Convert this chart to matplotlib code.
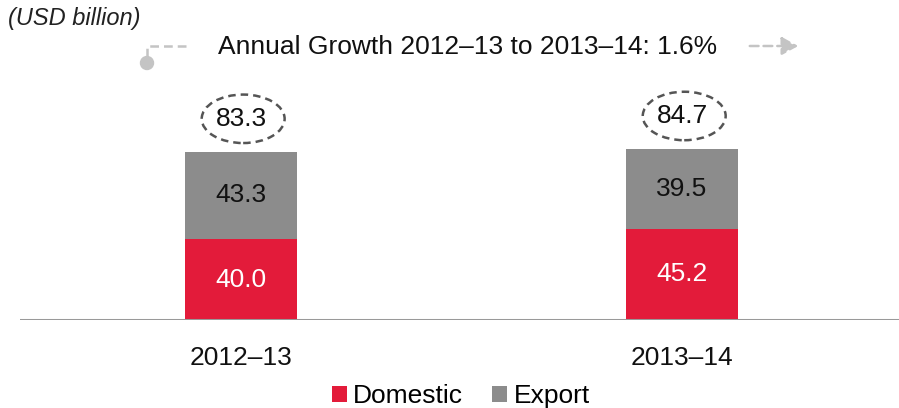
import matplotlib
matplotlib.use("Agg")
import matplotlib.pyplot as plt
from matplotlib.patches import Ellipse, FancyArrowPatch
from matplotlib.lines import Line2D

plt.rcParams['font.family'] = ['Liberation Sans', 'DejaVu Sans']

# Data (USD billion)
years = ["2012\u201313", "2013\u201314"]
domestic = [40.0, 45.2]
export = [43.3, 39.5]
growth_label = "Annual Growth 2012\u201313 to 2013\u201314: 1.6%"

RED = "#E31B3A"
GREY = "#8C8C8C"
FS = 19

W, H = 899, 408
fig = plt.figure(figsize=(W / 100, H / 100), dpi=100)

# axes spans the area above the baseline (baseline at y=320 px)
px_per_unit = 2.02
ax = fig.add_axes([20 / W, (H - 320) / H, 879 / W, 320 / H])
ax.set_ylim(0, 320 / px_per_unit)
ax.set_xlim(-0.501, 1.492)
ax.axis("off")

x = list(range(len(years)))
width = 0.254
ax.bar(x, domestic, width, color=RED, label="Domestic", zorder=2)
ax.bar(x, export, width, bottom=domestic, color=GREY, label="Export", zorder=2)
ax.axhline(0, color="#999999", lw=2.2, zorder=3)

totals = [d + e for d, e in zip(domestic, export)]
for xi, d, e, t, yl in zip(x, domestic, export, totals, years):
    ax.text(xi, d / 2, f"{d:.1f}", color="white", fontsize=FS,
            ha="center", va="center", zorder=4)
    ax.text(xi, d + e / 2, f"{e:.1f}", color="#111111", fontsize=FS,
            ha="center", va="center", zorder=4)
    yc = t + 16.3
    ax.add_patch(Ellipse((xi + 0.005, yc), 0.188, 24, fill=False, ec="#555555",
                         lw=1.8, ls=(0, (3, 2)), clip_on=False, zorder=4))
    ax.text(xi, yc, f"{t:.1f}", color="#111111", fontsize=FS,
            ha="center", va="center", zorder=5)
    ax.text(xi, -38 / px_per_unit, yl, color="#111111", fontsize=FS,
            ha="center", va="center", clip_on=False)

# unit label
fig.text(8 / W, 1 - 19 / H, "(USD billion)", fontsize=17, style="italic",
         color="#222222", ha="left", va="center")


def fx(px):
    return px / W


def fy(py):
    return 1 - py / H


# growth annotation with dashed connector and arrow
conn = "#C4C4C4"
fig.add_artist(Line2D([fx(147), fx(147), fx(190)], [fy(57), fy(46), fy(46)],
                      color=conn, lw=1.8, ls=(0, (3.5, 2))))
fig.add_artist(Ellipse((fx(147), fy(63)), 13 / W, 13 / H, color=conn,
                       transform=fig.transFigure))
fig.text(fx(468), fy(47), growth_label, fontsize=FS, color="#111111",
         ha="center", va="center")
fig.add_artist(FancyArrowPatch((fx(747), fy(46)), (fx(801), fy(46)),
                               transform=fig.transFigure,
                               arrowstyle="-|>,head_length=10,head_width=5.5",
                               color=conn, lw=1.8, ls=(0, (3.5, 2)),
                               mutation_scale=1))

# legend
fig.legend(loc="center", bbox_to_anchor=(fx(461), fy(396)), ncol=2,
           frameon=False, fontsize=FS, handlelength=0.55, handleheight=0.55,
           handletextpad=0.25, columnspacing=1.1, borderpad=0)

fig.savefig("out.png", dpi=100)
